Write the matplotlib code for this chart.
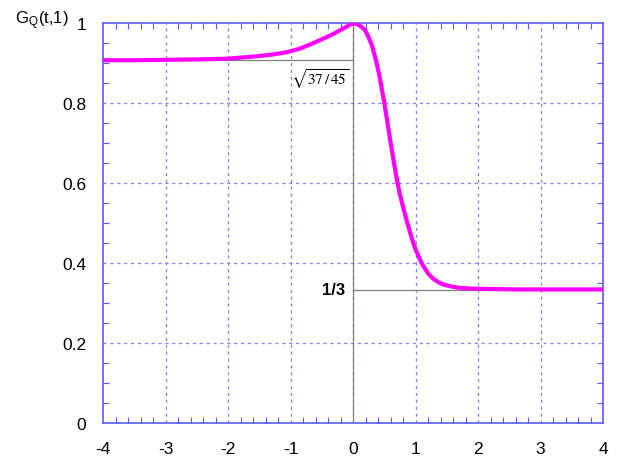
import numpy as np
import matplotlib
matplotlib.use("Agg")
import matplotlib.pyplot as plt
from matplotlib.ticker import MultipleLocator

# values
t_vals = [-4.0, -3.5, -3.0, -2.5, -2.0, -1.6, -1.3, -1.06, -0.85, -0.63, -0.42, -0.3,
          -0.21, -0.1, -0.05, 0.0, 0.05, 0.1, 0.14, 0.18, 0.21, 0.25, 0.30, 0.35,
          0.39, 0.43, 0.50, 0.565, 0.62, 0.68, 0.74, 0.80, 0.86, 0.94, 1.0, 1.1,
          1.2, 1.28, 1.365, 1.45, 1.58, 1.7, 1.9, 2.2, 2.6, 3.0, 3.5, 4.0]
g_vals = [0.907, 0.907, 0.908, 0.909, 0.911, 0.916, 0.921, 0.927, 0.936, 0.95, 0.965, 0.974,
          0.982, 0.991, 0.996, 0.999, 0.998, 0.994, 0.99, 0.984, 0.977, 0.964, 0.945, 0.917,
          0.891, 0.862, 0.80, 0.737, 0.683, 0.627, 0.578, 0.54, 0.505, 0.462, 0.434, 0.399,
          0.374, 0.361, 0.352, 0.346, 0.341, 0.338, 0.336, 0.335, 0.334, 0.334, 0.334, 0.334]

x_ticks = [-4, -3, -2, -1, 0, 1, 2, 3, 4]
y_ticks = [0, 0.2, 0.4, 0.6, 0.8, 1]
left_limit = np.sqrt(37 / 45)
right_limit = 1 / 3

plt.rcParams['font.family'] = ['Liberation Sans', 'DejaVu Sans']
plt.rcParams['mathtext.fontset'] = 'stix'

fig = plt.figure(figsize=(6.3, 4.64), dpi=100)
ax = fig.add_axes([0.1635, 0.0862, 0.7937, 0.862])

blue = '#5a5aff'
grid_col = '#7f7fff'

# grid
for x in x_ticks[1:-1]:
    ax.axvline(x, color=grid_col, lw=0.9, ls=(0, (2.5, 3)), zorder=1)
for y in y_ticks[1:-1]:
    ax.axhline(y, color=grid_col, lw=0.9, ls=(0, (2.5, 3)), zorder=1)

# reference lines
ax.axvline(0, color='#808080', lw=0.9, zorder=2)
ax.plot([-4, 0], [left_limit, left_limit], color='#808080', lw=0.9, zorder=2)
ax.plot([0, 4], [right_limit, right_limit], color='#808080', lw=0.9, zorder=2)

# curve
ax.plot(t_vals, g_vals, color='#ff00ff', lw=3, solid_joinstyle='round',
        solid_capstyle='round', zorder=3)

ax.set_xlim(-4, 4)
ax.set_ylim(0, 1)
ax.set_xticks(x_ticks)
ax.set_yticks(y_ticks)
ax.set_xticklabels(['%g' % v for v in x_ticks])
ax.set_yticklabels(['%g' % v for v in y_ticks])
ax.xaxis.set_minor_locator(MultipleLocator(0.2))
ax.yaxis.set_minor_locator(MultipleLocator(0.05))
ax.tick_params(which='both', direction='in', top=True, right=True, colors=blue,
               labelcolor='black', labelsize=12.5)
ax.tick_params(which='major', length=0, width=1)
ax.tick_params(which='minor', length=4, width=0.8)
ax.tick_params(axis='x', pad=13)
ax.tick_params(axis='y', pad=12)
for sp in ax.spines.values():
    sp.set_color(blue)
    sp.set_linewidth(1.2)

# labels
fig.text(0.024, 0.955, r'G$_\mathregular{Q}$(t,1)', fontsize=12, ha='left', va='center')
ax.text(-0.53, 0.862, r'$\sqrt{37\,/\,45}$', fontsize=11, ha='center', va='center')
ax.text(-0.13, right_limit, '1/3', fontsize=12, fontweight='bold', ha='right', va='center')

fig.savefig('out.png', dpi=100)
